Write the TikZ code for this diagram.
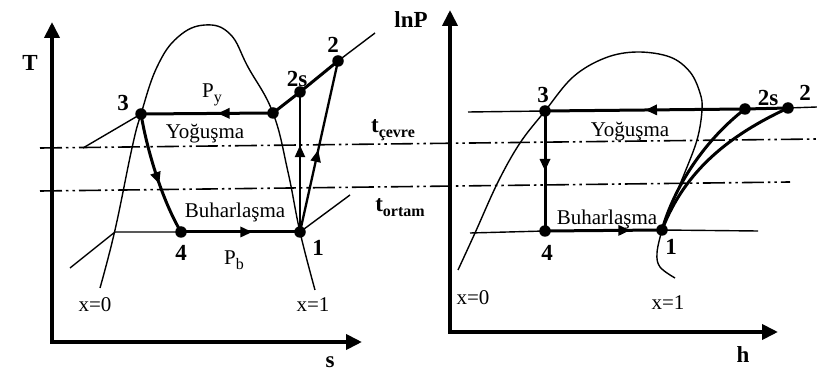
\documentclass[tikz,border=0pt]{standalone}
\usepackage{fontspec}
\setmainfont{Liberation Serif}
\usetikzlibrary{arrows.meta,decorations.markings}
\begin{document}
\begin{tikzpicture}[x=1pt,y=-1pt,
  thinl/.style={line width=1.4pt},
  thickl/.style={line width=3pt},
  medl/.style={line width=2.3pt},
  axisl/.style={line width=3.8pt,{Triangle[length=16pt,width=15pt]}-{Triangle[length=16pt,width=15pt]}},
  dot/.style={circle,fill=black,inner sep=0pt,minimum size=11.5pt},
  lbl/.style={font=\fontsize{21}{24}\selectfont,inner sep=0pt},
  num/.style={font=\fontsize{23}{26}\selectfont\bfseries,inner sep=0pt},
  ddot/.style={line width=1.6pt,dash pattern=on 22pt off 4pt on 2.5pt off 4pt on 2.5pt off 4pt},
  midarrow/.style={postaction={decorate,decoration={markings,mark=at position #1 with {\arrow{Triangle[length=12pt,width=10pt]}}}}}
]
\useasboundingbox (0,0) rectangle (817,379);
\newcommand{\sbs}[1]{\raisebox{-5pt}{\fontsize{16}{17}\selectfont #1}}

% axes
\draw[axisl] (52,22) -- (52,342) -- (362,342);
\draw[axisl] (450,10) -- (450,332) -- (778,332);

% dash-dot lines
\draw[ddot] (40,148) -- (817,139);
\draw[ddot] (40,191) -- (790,182);

% ---------- left T-s ----------
\node[dot] (L3) at (141,114) {};
\node[dot] (LV) at (273,113) {};
\node[dot] (L2s) at (300,92) {};
\node[dot] (L2) at (338,61) {};
\node[dot] (L1) at (300,232) {};
\node[dot] (L4) at (181,232) {};

\draw[thinl] plot[smooth,tension=0.7] coordinates {(100,288) (115,230) (132,148) (141,114) (157,67) (178,37) (205,25) (230,34) (248,67) (273,113) (288,172) (300,232) (315,290)};

\draw[thinl] (83,148) -- (L3.center);
\draw[thinl] (L2.center) -- (375,33);
\draw[thinl] (70,268) -- (115,232) -- (L4.center);
\draw[thinl] (L1.center) -- (350,195);

\draw[thickl,midarrow=0.42] (LV.center) -- (L3.center);
\draw[thickl] (LV.center) -- (L2s.center) -- (L2.center);
\draw[thickl,midarrow=0.6] (L4.center) -- (L1.center);
\draw[thickl,midarrow=0.58] (L3.center) .. controls (147,150) and (162,200) .. (L4.center);
\draw[medl,midarrow=0.62] (L1.center) -- (L2s.center);
\draw[medl,midarrow=0.48] (L1.center) -- (L2.center);

\node[num] (tT) at (30,63) {T};
\node[num] (ts) at (330,362) {s};
\node[num] (l3) at (123,103) {3};
\node[num] (l2s) at (297,79) {2s};
\node[num] (l2) at (333,45) {2};
\node[num] (l1) at (318,248) {1};
\node[num] (l4) at (181,253) {4};
\node[lbl] (py) at (212,95) {P\sbs{y}};
\node[lbl] (pb) at (234,260) {P\sbs{b}};
\node[lbl] (yl) at (205,134) {Yoğuşma};
\node[lbl] (bl) at (235,212) {Buharlaşma};
\node[lbl] (x0l) at (95,305) {x=0};
\node[lbl] (x1l) at (313,305) {x=1};

% middle labels
\node[num] (tc) at (393,130) {t\sbs{çevre}};
\node[num] (to) at (400,208) {t\sbs{ortam}};
\node[num] (lnp) at (411,20) {lnP};

% ---------- right lnP-h ----------
\node[dot] (R3) at (545,111) {};
\node[dot] (R4) at (545,231) {};
\node[dot] (R1) at (662,230) {};
\node[dot] (R2s) at (745,109) {};
\node[dot] (R2) at (788,108) {};

\draw[thinl] plot[smooth,tension=0.6] coordinates {(458,270) (475,233) (498,182) (520,143) (545,111) (573,77) (605,58) (637,52) (670,57) (690,72) (700,93) (702,110) (697,140) (683,177) (668,213) (662,230) (657,253) (660,267) (675,278)};

\draw[thinl] (468,112) -- (R3.center);
\draw[thinl] (R2.center) -- (817,107);
\draw[thinl] (470,233) -- (R4.center);
\draw[thinl] (R1.center) -- (758,231);

\draw[thickl,midarrow=0.5] (R2s.center) -- (R3.center);
\draw[thickl] (R2s.center) -- (R2.center);
\draw[thickl,midarrow=0.5] (R3.center) -- (R4.center);
\draw[thickl,midarrow=0.73] (R4.center) -- (R1.center);
\draw[thickl] (R1.center) .. controls (675,185) and (705,140) .. (R2s.center);
\draw[thickl] (R1.center) .. controls (685,170) and (730,135) .. (R2.center);

\node[num] (th) at (743,355) {h};
\node[num] (r3) at (543,95) {3};
\node[num] (r4) at (547,253) {4};
\node[num] (r1) at (671,247) {1};
\node[num] (r2s) at (768,98) {2s};
\node[num] (r2) at (805,93) {2};
\node[lbl] (yr) at (630,132) {Yoğuşma};
\node[lbl] (br) at (607,219) {Buharlaşma};
\node[lbl] (x0r) at (473,298) {x=0};
\node[lbl] (x1r) at (668,303) {x=1};
\end{tikzpicture}
\end{document}
